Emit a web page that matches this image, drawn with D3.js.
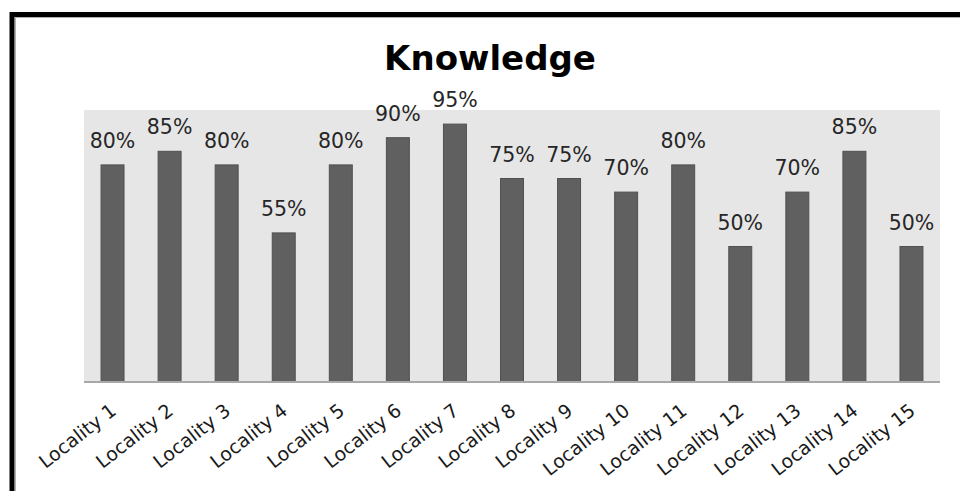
<!DOCTYPE html>
<html>
<head>
<meta charset="utf-8">
<script src="https://cdn.jsdelivr.net/npm/d3@7"></script>
<style>
  html, body { margin: 0; padding: 0; background: #fff; }
  svg { display: block; }
</style>
</head>
<body>
<script>
// Knowledge score per locality
const categories = ["Locality 1", "Locality 2", "Locality 3", "Locality 4", "Locality 5",
  "Locality 6", "Locality 7", "Locality 8", "Locality 9", "Locality 10",
  "Locality 11", "Locality 12", "Locality 13", "Locality 14", "Locality 15"];
const values = [0.80, 0.85, 0.80, 0.55, 0.80, 0.90, 0.95, 0.75, 0.75, 0.70, 0.80, 0.50, 0.70, 0.85, 0.50];
const title = "Knowledge";

const W = 960, H = 491;
const plot = { left: 84, right: 940, top: 110, bottom: 382 };

const svg = d3.select("body").append("svg")
  .attr("width", W).attr("height", H);

svg.append("rect").attr("width", W).attr("height", H).attr("fill", "#fff");

// Outer frame (left and top edges)
svg.append("path")
  .attr("d", `M12,${H} L12,14.5 L${W},14.5`)
  .attr("fill", "none").attr("stroke", "#000").attr("stroke-width", 5);
svg.append("path")
  .attr("d", `M15.5,${H} L15.5,17.5 L${W},17.5`)
  .attr("fill", "none").attr("stroke", "#b0b0b0").attr("stroke-width", 1);

const x = d3.scaleBand().domain(categories)
  .range([plot.left, plot.right]).paddingInner(0.58).paddingOuter(0.29);
const y = d3.scaleLinear().domain([0, 1]).range([plot.bottom, plot.top]);

// Plot area
svg.append("rect")
  .attr("x", plot.left).attr("y", plot.top)
  .attr("width", plot.right - plot.left).attr("height", plot.bottom - plot.top)
  .attr("fill", "#e6e6e6");

// Bars
svg.append("g").selectAll("rect").data(values).join("rect")
  .attr("x", (d, i) => x(categories[i]) + 0.5)
  .attr("y", d => y(d) + 0.5)
  .attr("width", x.bandwidth() - 1)
  .attr("height", d => y(0) - y(d) - 0.5)
  .attr("fill", "#606060")
  .attr("stroke", "#505050").attr("stroke-width", 1);

// Category axis
const xAxis = svg.append("g")
  .attr("transform", `translate(0,${plot.bottom})`)
  .call(d3.axisBottom(x).tickSize(0).tickPadding(0));
xAxis.select(".domain").attr("stroke", "#a8a8a8").attr("stroke-width", 2)
  .attr("d", `M${plot.left},0H${plot.right}`);
xAxis.selectAll(".tick text")
  .attr("font-family", "DejaVu Sans, sans-serif")
  .attr("font-size", 19)
  .attr("fill", "#1a1a1a")
  .attr("text-anchor", "end")
  .attr("dy", 0)
  .attr("transform", "translate(5,31) rotate(-38)");

// Value labels
svg.append("g").selectAll("text").data(values).join("text")
  .attr("x", (d, i) => x(categories[i]) + x.bandwidth() / 2)
  .attr("y", d => y(d) - 16.5)
  .attr("text-anchor", "middle")
  .attr("font-family", "DejaVu Sans, sans-serif")
  .attr("font-size", 20.5)
  .attr("fill", "#262626")
  .text(d => d3.format(".0%")(d));

// Title
svg.append("text")
  .attr("x", 490).attr("y", 70)
  .attr("text-anchor", "middle")
  .attr("font-family", "DejaVu Sans, sans-serif")
  .attr("font-weight", "bold")
  .attr("font-size", 34)
  .attr("fill", "#000")
  .text(title);
</script>
</body>
</html>
